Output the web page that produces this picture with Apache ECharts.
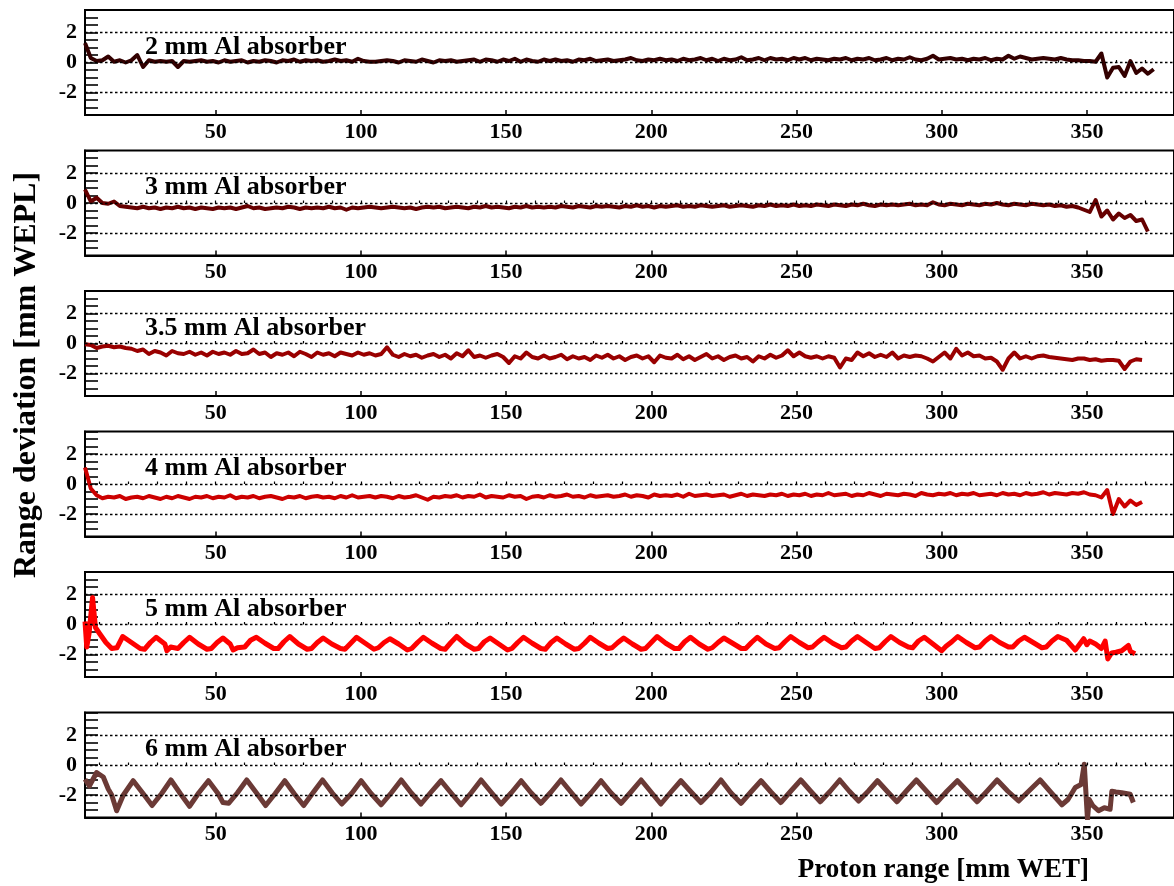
<!DOCTYPE html>
<html>
<head>
<meta charset="utf-8">
<script src="https://cdn.jsdelivr.net/npm/echarts@6/dist/echarts.min.js"></script>
<style>html,body{margin:0;padding:0;background:#fff}#c{width:1174px;height:886px}</style>
</head>
<body>
<div id="c"></div>
<script>
// ---- tick labels ----
const xMajorTicks = [50,100,150,200,250,300,350];
const xMinorTicks = [10,20,30,40,50,60,70,80,90,100,110,120,130,140,150,160,170,180,190,200,210,220,230,240,250,260,270,280,290,300,310,320,330,340,350,360,370];
const yLabelValues = [-2,0,2];
const panelLabels = ['2 mm Al absorber','3 mm Al absorber','3.5 mm Al absorber','4 mm Al absorber','5 mm Al absorber','6 mm Al absorber'];
const panelColors = ['#330000','#660000','#990000','#cc0000','#ff0000','#6b3a36'];

// ---- shared x for the first four panels (mm WET) ----
const xs = [5,7,9,11,13,15,17,19,21,23,
25,27,29,31,33,35,37,39,41,43,
45,47,49,51,53,55,57,59,61,63,
65,67,69,71,73,75,77,79,81,83,
85,87,89,91,93,95,97,99,101,103,
105,107,109,111,113,115,117,119,121,123,
125,127,129,131,133,135,137,139,141,143,
145,147,149,151,153,155,157,159,161,163,
165,167,169,171,173,175,177,179,181,183,
185,187,189,191,193,195,197,199,201,203,
205,207,209,211,213,215,217,219,221,223,
225,227,229,231,233,235,237,239,241,243,
245,247,249,251,253,255,257,259,261,263,
265,267,269,271,273,275,277,279,281,283,
285,287,289,291,293,295,297,299,301,303,
305,307,309,311,313,315,317,319,321,323,
325,327,329,331,333,335,337,339,341,343,
345,347,349,351,353,355,357,359,361,363,
365,367,369,371,373];

const dev2mm = [1.3,0.3,0.1,0.15,0.4,0.05,0.15,0.0,0.15,0.5,
-0.3,0.15,0.05,0.1,0.05,0.1,-0.3,0.1,0.05,0.1,
0.15,0.05,0.1,0.0,0.15,0.05,0.1,0.15,0.0,0.1,
0.05,0.15,0.1,0.0,0.15,0.1,0.2,0.05,0.15,0.1,
0.15,0.05,0.1,0.2,0.1,0.15,0.05,0.25,0.1,0.05,
0.05,0.1,0.15,0.1,0.0,0.15,0.1,0.05,0.2,0.1,
0.0,0.15,0.1,0.15,0.05,0.1,0.15,0.2,0.05,0.2,
0.15,0.05,0.2,0.1,0.25,0.05,0.2,0.1,0.05,0.2,
0.1,0.2,0.1,0.15,0.05,0.2,0.15,0.25,0.1,0.15,
0.2,0.1,0.15,0.2,0.3,0.15,0.1,0.2,0.15,0.25,
0.15,0.2,0.1,0.25,0.15,0.2,0.3,0.15,0.25,0.1,
0.25,0.15,0.2,0.35,0.15,0.2,0.3,0.15,0.3,0.2,
0.25,0.15,0.3,0.2,0.3,0.15,0.25,0.2,0.15,0.25,
0.2,0.3,0.15,0.25,0.2,0.3,0.15,0.2,0.3,0.15,
0.25,0.2,0.35,0.2,0.15,0.25,0.45,0.2,0.25,0.3,
0.2,0.25,0.15,0.25,0.2,0.3,0.15,0.25,0.2,0.45,
0.25,0.4,0.3,0.2,0.25,0.3,0.25,0.2,0.3,0.2,
0.15,0.15,0.1,0.1,0.05,0.6,-1.0,-0.35,-0.3,-0.9,
0.1,-0.7,-0.4,-0.75,-0.45];

const dev3mm = [0.9,0.1,0.35,0.0,-0.05,0.1,-0.2,-0.25,-0.3,-0.35,
-0.25,-0.35,-0.3,-0.4,-0.3,-0.35,-0.25,-0.35,-0.3,-0.4,
-0.3,-0.35,-0.4,-0.3,-0.35,-0.3,-0.4,-0.3,-0.2,-0.35,
-0.3,-0.4,-0.35,-0.3,-0.35,-0.25,-0.3,-0.4,-0.3,-0.35,
-0.3,-0.35,-0.25,-0.35,-0.3,-0.45,-0.3,-0.35,-0.3,-0.25,
-0.3,-0.35,-0.3,-0.25,-0.3,-0.35,-0.3,-0.4,-0.3,-0.25,
-0.3,-0.25,-0.35,-0.3,-0.25,-0.3,-0.35,-0.25,-0.3,-0.2,
-0.3,-0.25,-0.3,-0.35,-0.25,-0.3,-0.2,-0.3,-0.25,-0.3,
-0.25,-0.3,-0.2,-0.25,-0.3,-0.2,-0.25,-0.3,-0.2,-0.25,
-0.2,-0.25,-0.3,-0.2,-0.25,-0.15,-0.25,-0.2,-0.3,-0.2,
-0.25,-0.2,-0.15,-0.25,-0.2,-0.25,-0.15,-0.2,-0.25,-0.2,
-0.15,-0.25,-0.2,-0.15,-0.2,-0.25,-0.15,-0.2,-0.1,-0.2,
-0.15,-0.2,-0.1,-0.2,-0.15,-0.2,-0.1,-0.15,-0.2,-0.1,
-0.15,-0.2,-0.1,-0.15,-0.05,-0.15,-0.2,-0.1,-0.15,-0.1,
-0.15,-0.1,-0.05,-0.15,-0.1,-0.15,0.05,-0.1,-0.15,-0.05,
-0.1,-0.15,-0.05,-0.1,-0.15,-0.05,-0.1,0.0,-0.1,-0.15,
-0.05,-0.1,-0.15,-0.05,-0.1,-0.15,-0.1,-0.2,-0.15,-0.25,
-0.2,-0.3,-0.45,-0.6,0.2,-0.9,-0.5,-1.1,-0.7,-1.0,
-0.8,-1.2,-1.1,-1.9];

const dev35mm = [-0.05,-0.1,-0.3,-0.2,-0.15,-0.25,-0.2,-0.3,-0.35,-0.5,
-0.4,-0.7,-0.5,-0.6,-0.8,-0.5,-0.65,-0.7,-0.55,-0.75,
-0.6,-0.8,-0.55,-0.7,-0.6,-0.75,-0.5,-0.7,-0.65,-0.4,
-0.7,-0.6,-0.9,-0.65,-0.75,-0.6,-0.85,-0.55,-0.7,-0.9,
-0.6,-0.75,-0.65,-0.85,-0.6,-0.7,-0.8,-0.6,-0.75,-0.65,
-0.8,-0.7,-0.25,-0.75,-0.9,-0.7,-0.85,-0.75,-0.95,-0.8,
-0.7,-0.9,-0.75,-1.0,-0.65,-0.85,-0.45,-0.9,-0.8,-0.95,
-0.8,-0.7,-0.9,-1.3,-0.85,-1.0,-0.6,-0.9,-1.0,-0.8,
-1.0,-0.9,-0.75,-1.05,-0.85,-1.0,-0.9,-1.1,-0.8,-0.95,
-0.75,-1.0,-0.85,-1.1,-0.9,-0.8,-1.0,-0.85,-1.25,-0.8,
-0.95,-1.0,-0.75,-1.05,-0.85,-1.1,-0.9,-0.7,-1.0,-0.85,
-1.1,-0.9,-0.8,-1.0,-0.9,-1.2,-0.85,-1.0,-0.75,-0.95,
-0.8,-0.45,-0.85,-0.6,-0.85,-0.95,-0.85,-1.0,-0.85,-0.95,
-1.6,-1.0,-1.1,-0.6,-0.85,-0.65,-0.9,-0.75,-0.9,-0.6,
-1.0,-0.8,-0.9,-0.8,-0.85,-1.0,-1.2,-0.9,-0.6,-1.0,
-0.35,-0.8,-0.6,-0.85,-0.8,-1.0,-0.95,-1.2,-1.75,-1.0,
-0.6,-1.0,-0.85,-1.0,-0.85,-0.8,-0.9,-0.95,-1.0,-1.05,
-1.1,-1.0,-1.0,-1.1,-1.05,-1.15,-1.1,-1.1,-1.15,-1.7,
-1.2,-1.05,-1.1];

const dev4mm = [1.1,-0.3,-0.75,-0.95,-0.85,-0.9,-0.8,-1.0,-0.9,-0.85,
-0.95,-0.8,-0.9,-1.0,-0.85,-0.95,-0.8,-0.9,-1.0,-0.85,
-0.9,-0.8,-0.95,-0.85,-0.9,-0.75,-0.95,-0.85,-0.9,-0.8,
-0.95,-0.85,-0.8,-0.9,-1.0,-0.85,-0.9,-0.8,-0.95,-0.85,
-0.8,-0.9,-0.85,-0.95,-0.8,-0.9,-0.75,-0.9,-0.85,-0.8,
-0.9,-0.8,-0.85,-0.95,-0.8,-0.9,-0.85,-0.75,-0.9,-1.05,
-0.85,-0.9,-0.8,-0.85,-0.75,-0.9,-0.8,-0.85,-0.7,-0.9,
-0.8,-0.85,-0.9,-0.75,-0.85,-0.8,-1.0,-0.85,-0.8,-0.9,
-0.75,-0.85,-0.8,-0.7,-0.85,-0.8,-0.9,-0.75,-0.85,-0.8,
-0.75,-0.85,-0.8,-0.7,-0.85,-0.75,-0.8,-0.9,-0.7,-0.8,
-0.75,-0.8,-0.7,-0.85,-0.65,-0.8,-0.75,-0.7,-0.8,-0.75,
-0.7,-0.85,-0.75,-0.65,-0.8,-0.7,-0.75,-0.8,-0.7,-0.75,
-0.65,-0.8,-0.7,-0.75,-0.65,-0.8,-0.7,-0.75,-0.6,-0.75,
-0.7,-0.65,-0.8,-0.7,-0.75,-0.6,-0.7,-0.8,-0.65,-0.7,
-0.75,-0.65,-0.7,-0.8,-0.6,-0.7,-0.75,-0.65,-0.7,-0.6,
-0.75,-0.65,-0.7,-0.6,-0.75,-0.7,-0.65,-0.75,-0.6,-0.7,
-0.65,-0.75,-0.6,-0.7,-0.65,-0.55,-0.7,-0.6,-0.65,-0.7,
-0.6,-0.65,-0.55,-0.7,-0.75,-0.9,-0.4,-2.0,-1.0,-1.5,
-1.1,-1.4,-1.2];

// ---- 5 mm panel: vertices ----
const x5mm = [5,5.6,6.4,7.6,8.6,10,12.2,14.2,16,
18,21,24,25.5,27.5,
29.5,32.5,33.2,34.5,37,39,
41,44,47,48.5,50.5,
52.5,55,56,57.5,60,62,
64,67,70,71.5,73.5,
75.5,78.5,81.5,83,85,
87,90,93,94.5,96.5,
98.5,101.5,104.5,106,108,
110,113,116,117.5,119.5,
121.5,124.5,127.5,129,131,
133,136,139,140.5,142.5,
144.5,147.5,150.5,152,154,
156,159,162,163.5,165.5,
167.5,170.5,173.5,175,177,
179,182,185,186.5,188.5,
190.5,193.5,196.5,198,200,
202,205,208,209.5,211.5,
213.5,216.5,219.5,221,223,
225,228,231,232.5,234.5,
236.5,239.5,242.5,244,246,
248,251,254,255.5,257.5,
259.5,262.5,265.5,267,269,
271,274,277,278.5,280.5,
282.5,285.5,288.5,290,292,
294,297,300,301.5,303.5,
305.5,308.5,311.5,313,315,
317,320,323,324.5,326.5,
328.5,331.5,334.5,336,338,
340,343,346,348.9,350,351,353,355,356.3,357.2,358.5,360,362,364.3,365,366.6];
const dev5mm = [0.2,-1.5,-0.6,1.8,-0.2,-0.6,-1.2,-1.6,-1.55,
-0.8,-1.2,-1.6,-1.65,-1.2,
-0.85,-1.3,-1.75,-1.5,-1.6,-1.2,
-0.85,-1.3,-1.65,-1.6,-1.2,
-0.9,-1.3,-1.7,-1.55,-1.5,-1.05,
-0.85,-1.25,-1.6,-1.6,-1.15,
-0.8,-1.3,-1.65,-1.6,-1.2,
-0.9,-1.3,-1.6,-1.65,-1.25,
-0.85,-1.25,-1.65,-1.55,-1.2,
-0.95,-1.3,-1.7,-1.6,-1.2,
-0.85,-1.25,-1.6,-1.65,-1.2,
-0.8,-1.3,-1.65,-1.6,-1.15,
-0.9,-1.3,-1.7,-1.6,-1.2,
-0.85,-1.25,-1.6,-1.65,-1.2,
-0.9,-1.3,-1.65,-1.6,-1.25,
-0.85,-1.25,-1.6,-1.55,-1.2,
-0.9,-1.3,-1.65,-1.6,-1.2,
-0.8,-1.25,-1.6,-1.6,-1.15,
-0.85,-1.3,-1.65,-1.55,-1.2,
-0.9,-1.25,-1.6,-1.6,-1.2,
-0.85,-1.3,-1.6,-1.55,-1.15,
-0.8,-1.2,-1.55,-1.5,-1.15,
-0.85,-1.25,-1.55,-1.5,-1.1,
-0.8,-1.2,-1.6,-1.55,-1.15,
-0.8,-1.2,-1.5,-1.55,-1.1,
-0.85,-1.3,-1.75,-1.45,-1.15,
-0.8,-1.2,-1.55,-1.5,-1.1,
-0.8,-1.2,-1.5,-1.5,-1.1,
-0.85,-1.2,-1.55,-1.5,-1.1,
-0.8,-1.05,-1.7,-0.95,-1.35,-1.1,-1.3,-1.6,-1.1,-2.3,-1.9,-1.85,-1.75,-1.4,-1.8,-1.95];

// ---- 6 mm panel: vertices ----
const x6mm = [5,6.5,9,11.3,13,14.2,15.9,18.2,
21.6,24.8,28.1,31.4,
34.6,37.8,41,44.2,
47.5,50.8,52.5,54.5,57.5,
60.7,64,67.2,70.5,
73.8,77,80.3,83.5,
86.8,90.1,93.4,96.8,
100.1,103.5,107,110.5,
113.9,117.3,120.7,124.2,
127.6,131,134.5,138,
141.4,144.8,148.3,151.8,
155.2,158.6,162,165.5,
168.9,172.3,175.8,179.3,
182.7,186.1,189.6,193,
196.5,199.9,203.3,206.8,
210.2,213.7,217.1,220.6,
224,227.4,230.9,234.3,
237.8,241.2,244.6,248,
251.5,254.9,258.2,261.6,
264.9,268.2,271.4,274.7,
277.9,281.2,284.6,288,
291.3,294.8,298.3,301.8,
305.4,308.8,312.2,315.6,
319.1,322.8,326.5,330.2,
333.9,337.5,341.4,343.5,
346,348,349.1,350.2,350.8,352,354,356,358,358.6,360,362,364.9,366];
const dev6mm = [-0.95,-1.4,-0.5,-0.8,-1.6,-2.0,-3.05,-2.0,
-1.05,-1.85,-2.7,-1.9,
-1.0,-1.9,-2.75,-1.85,
-1.05,-1.9,-2.5,-2.55,-1.85,
-1.0,-1.85,-2.7,-1.9,
-1.05,-1.9,-2.7,-1.85,
-1.0,-1.85,-2.6,-1.9,
-1.05,-1.9,-2.65,-1.85,
-1.0,-1.85,-2.6,-1.8,
-1.05,-1.85,-2.65,-1.85,
-1.0,-1.8,-2.6,-1.85,
-1.05,-1.85,-2.55,-1.8,
-1.0,-1.8,-2.6,-1.85,
-1.05,-1.85,-2.55,-1.8,
-1.0,-1.8,-2.6,-1.8,
-1.05,-1.8,-2.5,-1.8,
-1.0,-1.85,-2.55,-1.8,
-1.05,-1.8,-2.5,-1.75,
-1.0,-1.75,-2.45,-1.75,
-1.0,-1.75,-2.4,-1.75,
-1.05,-1.75,-2.45,-1.7,
-1.0,-1.75,-2.5,-1.75,
-1.05,-1.75,-2.45,-1.75,
-1.0,-1.75,-2.4,-1.7,
-1.0,-1.8,-2.65,-2.3,
-1.5,-1.3,0.05,-3.6,-2.3,-2.7,-3.05,-2.85,-2.95,-1.75,-1.8,-1.85,-1.95,-2.5];

const panelX = [xs, xs, xs, xs, x5mm, x6mm];
const panelY = [dev2mm, dev3mm, dev35mm, dev4mm, dev5mm, dev6mm];
const lineWidths = [4,4,4,4,5,5];

// ---- layout ----
const FONT = '"Liberation Serif","Times New Roman",serif';
const gridLeft = 85, gridTop0 = 10, gridStep = 140.5, gridH = 105;
const xMin = 5, xMax = 380;

const grid = [], xAxis = [], yAxis = [], series = [], graphic = [];
for (let i = 0; i < 6; i++) {
  grid.push({left: gridLeft, right: -3, top: gridTop0 + gridStep * i, height: gridH,
    show: true, borderColor: '#000', borderWidth: 2, backgroundColor: 'transparent'});
  xAxis.push({type: 'value', gridIndex: i, min: xMin, max: xMax, position: 'bottom',
    axisLine: {show: true, onZero: false, lineStyle: {color: '#000', width: 2}},
    axisTick: {show: true, inside: true, length: 5, customValues: xMajorTicks, lineStyle: {color: '#000', width: 1.5}},
    axisLabel: {show: true, customValues: xMajorTicks, margin: 6, color: '#000', fontFamily: FONT, fontWeight: 'bold', fontSize: 22},
    splitLine: {show: false}});
  xAxis.push({type: 'value', gridIndex: i, min: xMin, max: xMax, position: 'bottom',
    axisLine: {show: false},
    axisTick: {show: true, inside: true, length: 2.5, customValues: xMinorTicks, lineStyle: {color: '#000', width: 1.2}},
    axisLabel: {show: false}, splitLine: {show: false}});
  yAxis.push({type: 'value', gridIndex: i, min: -3.5, max: 3.5, interval: 0.5,
    axisLine: {show: true, onZero: false, lineStyle: {color: '#000', width: 2}},
    axisTick: {show: true, inside: true, length: 13, lineStyle: {color: '#000', width: 1.6}},
    axisLabel: {show: true, margin: 8, color: '#000', fontFamily: FONT, fontWeight: 'bold', fontSize: 22,
      formatter: v => (yLabelValues.indexOf(v) >= 0 ? String(v) : '')},
    splitLine: {show: false}});
  // dotted reference lines
  series.push({type: 'line', xAxisIndex: 2 * i, yAxisIndex: i, data: [], z: 1, silent: true,
    markLine: {silent: true, symbol: 'none', animation: false, label: {show: false},
      lineStyle: {color: '#000', type: [2.5, 2.5], width: 1.4},
      data: yLabelValues.map(v => ({yAxis: v}))}});
  const xv = panelX[i], yv = panelY[i];
  const n = Math.min(xv.length, yv.length);
  const data = [];
  for (let k = 0; k < n; k++) data.push([xv[k], yv[k]]);
  series.push({type: 'line', xAxisIndex: 2 * i, yAxisIndex: i, data: data, z: 3,
    showSymbol: false, symbol: 'none', animation: false,
    lineStyle: {color: panelColors[i], width: lineWidths[i], join: 'round'}});
  graphic.push({type: 'text', x: 145, y: 47 + gridStep * i,
    style: {text: panelLabels[i], font: 'bold 26px ' + FONT, fill: '#000', align: 'left', verticalAlign: 'middle'}});
}
graphic.push({type: 'text', x: 27, y: 375, rotation: Math.PI / 2,
  style: {text: 'Range deviation [mm WEPL]', font: 'bold 32px ' + FONT, fill: '#000', align: 'center', verticalAlign: 'middle'}});
graphic.push({type: 'text', x: 1089, y: 870,
  style: {text: 'Proton range [mm WET]', font: 'bold 27px ' + FONT, fill: '#000', align: 'right', verticalAlign: 'middle'}});

const chart = echarts.init(document.getElementById('c'), null, {renderer: 'canvas'});
chart.setOption({backgroundColor: '#fff', animation: false, grid, xAxis, yAxis, series, graphic});
</script>
</body>
</html>
